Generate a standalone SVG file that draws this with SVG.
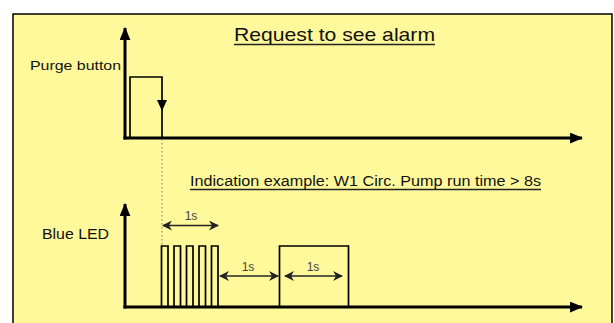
<svg xmlns="http://www.w3.org/2000/svg" width="614" height="323" viewBox="0 0 614 323">
<style>
.axis{stroke:#000;stroke-width:3;fill:none}
.sig{stroke:#000;stroke-width:1.7;fill:none}
.dim{stroke:#222;stroke-width:1.6;fill:none}
.lbl{font-family:"Liberation Sans",Arial,sans-serif;fill:#111}
.sm{font-family:"Liberation Sans",Arial,sans-serif;font-size:12px;fill:#444;text-anchor:middle}
.ul{stroke:#222;stroke-width:1.4}
</style>
<defs>
<marker id="ah" viewBox="0 0 12 10" refX="11" refY="5" markerWidth="13" markerHeight="11" markerUnits="userSpaceOnUse" orient="auto">
<path d="M0,0 L12,5 L0,10 Z" fill="#000"/>
</marker>
<marker id="dh" viewBox="0 0 10 10" refX="9" refY="5" markerWidth="10" markerHeight="10" markerUnits="userSpaceOnUse" orient="auto-start-reverse">
<path d="M0,0 L10,5 L0,10 L3,5 Z" fill="#222"/>
</marker>
</defs>
<rect x="13" y="14" width="599" height="320" fill="#FFF99B" stroke="#000" stroke-width="1.5"/>
<g id="title">
<text class="lbl" x="234" y="41" font-size="19" textLength="201" lengthAdjust="spacingAndGlyphs">Request to see alarm</text>
<line class="ul" x1="234" y1="44.5" x2="435" y2="44.5"/>
</g>
<g id="purge-axis">
<line class="axis" x1="125" y1="139.5" x2="125" y2="28" marker-end="url(#ah)"/>
<line class="axis" x1="123.5" y1="138" x2="582" y2="138" marker-end="url(#ah)"/>
<text class="lbl" x="30" y="70" font-size="13.5" textLength="91" lengthAdjust="spacingAndGlyphs">Purge button</text>
</g>
<g id="purge-signal">
<polyline class="sig" points="130,138 130,77 162,77 162,138"/>
<path d="M157,100 L167,100 L162,111 Z" fill="#000"/>
</g>
<g id="indication">
<text class="lbl" x="190" y="186" font-size="14" textLength="351" lengthAdjust="spacingAndGlyphs">Indication example: W1 Circ. Pump run time &gt; 8s</text>
<line class="ul" x1="190" y1="189.5" x2="541" y2="189.5"/>
</g>
<g id="led-axis">
<line class="axis" x1="125" y1="308.5" x2="125" y2="204" marker-end="url(#ah)"/>
<line class="axis" x1="123.5" y1="307" x2="582" y2="307" marker-end="url(#ah)"/>
<text class="lbl" x="42" y="239" font-size="14.5" textLength="67" lengthAdjust="spacingAndGlyphs">Blue LED</text>
</g>
<g id="led-signal">
<polyline class="sig" points="161.5,307 161.5,246 168,246 168,307 174,307 174,246 180.5,246 180.5,307 186.5,307 186.5,246 193,246 193,307 199,307 199,246 205.5,246 205.5,307 211.5,307 211.5,246 218,246 218,307"/>
<polyline class="sig" points="279.5,307 279.5,246 348.5,246 348.5,307"/>
</g>
<g id="connectors">
<line x1="162" y1="139" x2="162" y2="245" stroke="#777" stroke-width="1" stroke-dasharray="1.5,2.5"/>
<line class="dim" x1="163" y1="225.5" x2="218" y2="225.5" marker-start="url(#dh)" marker-end="url(#dh)"/>
<line class="dim" x1="220" y1="276" x2="278" y2="276" marker-start="url(#dh)" marker-end="url(#dh)"/>
<line class="dim" x1="285" y1="276" x2="342" y2="276" marker-start="url(#dh)" marker-end="url(#dh)"/>
</g>
<g id="dim-labels">
<text class="sm" x="191" y="220">1s</text>
<text class="sm" x="248" y="271">1s</text>
<text class="sm" x="313" y="271">1s</text>
</g>
</svg>
